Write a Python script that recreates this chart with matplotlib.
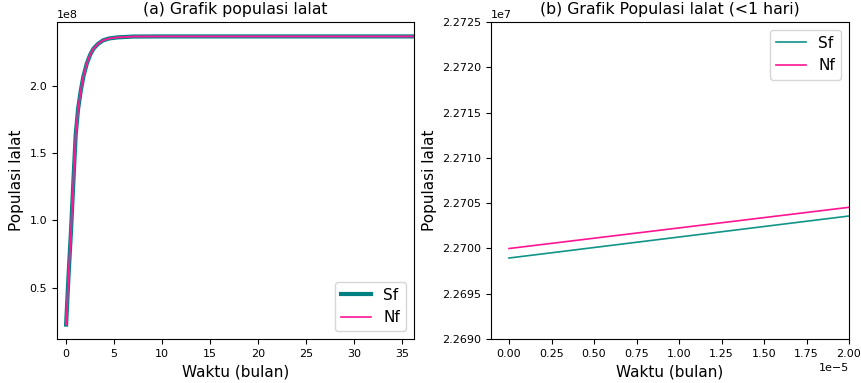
import numpy as np
import matplotlib.pyplot as plt
from matplotlib.ticker import MultipleLocator

# (a) populasi lalat, waktu dalam bulan
t_a = [0, 0.25, 0.5, 0.75, 1.0, 1.25, 1.53, 1.8, 2.15, 2.5, 2.85, 3.3, 3.85,
       4.5, 5.4, 7.0, 10.0, 20.0, 36.5]
sf_a = [0.227e8, 0.59e8, 0.91e8, 1.28e8, 1.64e8, 1.83e8, 1.965e8, 2.07e8, 2.164e8,
        2.23e8, 2.276e8, 2.31e8, 2.338e8, 2.352e8, 2.36e8, 2.366e8, 2.367e8,
        2.367e8, 2.367e8]
nf_a = [0.227e8, 0.59e8, 0.91e8, 1.28e8, 1.64e8, 1.83e8, 1.965e8, 2.07e8, 2.164e8,
        2.23e8, 2.276e8, 2.31e8, 2.338e8, 2.352e8, 2.36e8, 2.366e8, 2.367e8,
        2.367e8, 2.367e8]

# (b) populasi lalat < 1 hari
t_b = [0.0, 2.0e-5]
sf_b = [2.269894e7, 2.270358e7]
nf_b = [2.269999e7, 2.270454e7]

plt.rcParams["xtick.labelsize"] = 8
plt.rcParams["ytick.labelsize"] = 8

fig, axes = plt.subplots(nrows=1, ncols=2, figsize=(8.62, 3.83), dpi=100)
W, H = 862.0, 383.0
axes[0].set_position([57 / W, 44 / H, 357 / W, 317 / H])
axes[1].set_position([491 / W, 44 / H, 358 / W, 317 / H])

# 1st panel
ax = axes[0]
ax.plot(t_a, sf_a, color="teal", lw=3, label="Sf")
ax.plot(t_a, sf_a, color="#4a7fa8", lw=1.6)
ax.plot(t_a, nf_a, color="deeppink", lw=1.2, label="Nf")
ax.set_xlim(-0.95, 36.25)
ax.set_xlabel("Waktu (bulan)", fontsize=11)
ax.set_ylabel("Populasi lalat", fontsize=11)
ax.set_title("(a) Grafik populasi lalat", fontsize=11.3)
ax.legend(loc="lower right", fontsize=11)

# 2nd panel
ax = axes[1]
ax.plot(t_b, sf_b, color="#119488", lw=1.2, label="Sf")
ax.plot(t_b, nf_b, color="deeppink", lw=1.2, label="Nf")
ax.set_xlim(-0.106e-5, 2.0e-5)
ax.set_ylim(2.2690e7, 2.2725e7)
ax.xaxis.set_major_locator(MultipleLocator(0.25e-5))
ax.ticklabel_format(axis="y", style="sci", scilimits=(7, 7), useOffset=False)
ax.set_xlabel("Waktu (bulan)", fontsize=11)
ax.set_ylabel("Populasi lalat", fontsize=11)
ax.set_title("(b) Grafik Populasi lalat (<1 hari)", fontsize=11.3)
ax.legend(loc="upper right", fontsize=11)

plt.savefig("out.png")
plt.close()
